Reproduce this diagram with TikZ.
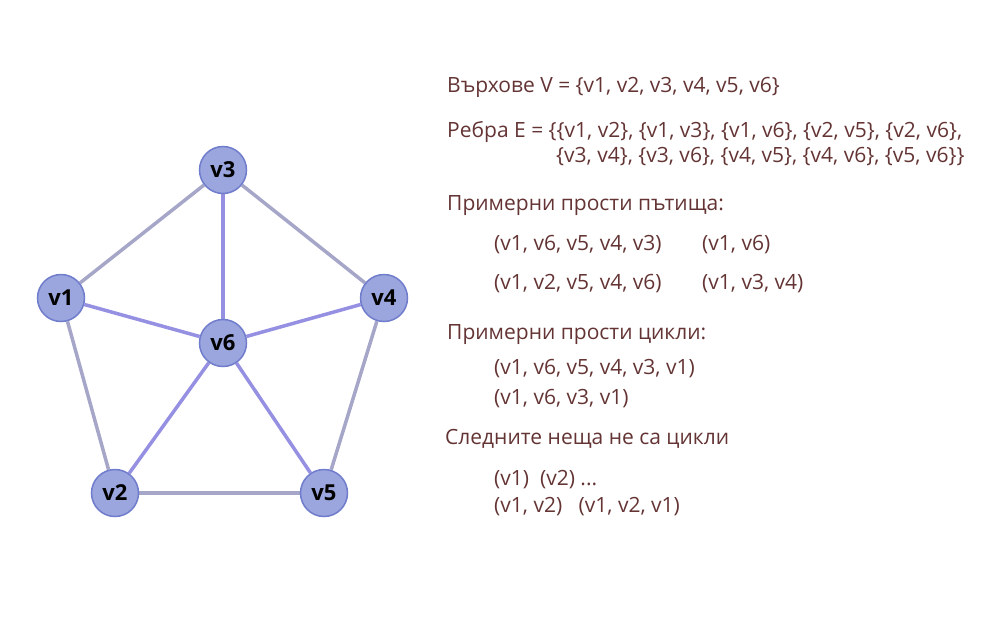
\documentclass[tikz,border=0pt]{standalone}
\usepackage{fontspec}
\setmainfont{Open Sans}
\usetikzlibrary{backgrounds}
\definecolor{nodefill}{RGB}{155,166,222}
\definecolor{nodeline}{RGB}{112,124,204}
\definecolor{outeredge}{RGB}{166,166,200}
\definecolor{inneredge}{RGB}{150,144,226}
\definecolor{txt}{RGB}{100,52,52}
\begin{document}
\begin{tikzpicture}[x=1pt,y=-1pt,
  vert/.style={circle,fill=nodefill,draw=nodeline,line width=1.5pt,minimum size=47pt,inner sep=0pt,font=\fontsize{22}{24}\selectfont\bfseries,text=black},
  outer/.style={draw=outeredge,line width=3.5pt},
  inner/.style={draw=inneredge,line width=3.5pt},
  lbl/.style={anchor=base west,inner sep=0pt,text=txt,font=\fontsize{21}{24}\selectfont}]
\useasboundingbox (0,0) rectangle (1000,640);
\node[vert] (v3) at (223,170) {v3};
\node[vert] (v1) at (61,298) {v1};
\node[vert] (v4) at (384,298) {v4};
\node[vert] (v6) at (223,343) {v6};
\node[vert] (v2) at (115,493) {v2};
\node[vert] (v5) at (324,493) {v5};
\begin{scope}[on background layer]
\path[outer] (v1) -- (v3);
\path[outer] (v3) -- (v4);
\path[outer] (v4) -- (v5);
\path[outer] (v2) -- (v5);
\path[outer] (v1) -- (v2);
\path[inner] (v1) -- (v6);
\path[inner] (v3) -- (v6);
\path[inner] (v4) -- (v6);
\path[inner] (v2) -- (v6);
\path[inner] (v5) -- (v6);
\end{scope}
\node[lbl] (t1) at (447,92) {Върхове V = \{v1, v2, v3, v4, v5, v6\}};
\node[lbl] (t2) at (447,137) {Ребра E = \{\{v1, v2\}, \{v1, v3\}, \{v1, v6\}, \{v2, v5\}, \{v2, v6\},};
\node[lbl] (t3) at (556,162) {\{v3, v4\}, \{v3, v6\}, \{v4, v5\}, \{v4, v6\}, \{v5, v6\}\}};
\node[lbl] (t4) at (447,210) {Примерни прости пътища:};
\node[lbl] (t5) at (494,250) {(v1, v6, v5, v4, v3)};
\node[lbl] (t6) at (702,250) {(v1, v6)};
\node[lbl] (t7) at (494,289) {(v1, v2, v5, v4, v6)};
\node[lbl] (t8) at (702,289) {(v1, v3, v4)};
\node[lbl] (t9) at (447,339) {Примерни прости цикли:};
\node[lbl] (t10) at (494,374) {(v1, v6, v5, v4, v3, v1)};
\node[lbl] (t11) at (494,404) {(v1, v6, v3, v1)};
\node[lbl] (t12) at (445,444) {Следните неща не са цикли};
\node[lbl] (t13) at (494,485) {(v1)\ \ (v2) ...};
\node[lbl] (t14) at (494,512) {(v1, v2)\ \ \ (v1, v2, v1)};
\end{tikzpicture}
\end{document}
